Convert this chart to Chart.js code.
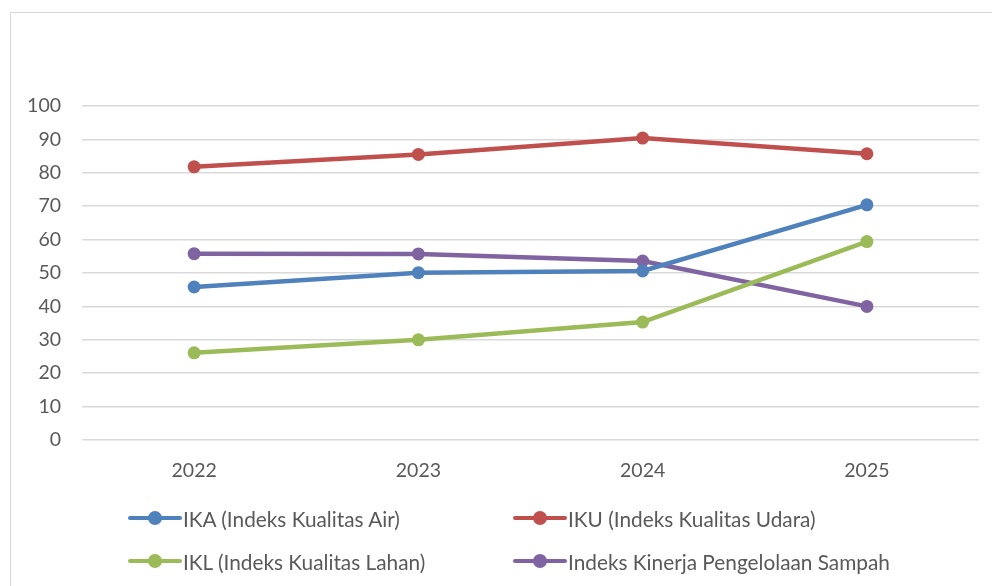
<!DOCTYPE html>
<html>
<head>
<meta charset="utf-8">
<script src="https://cdn.jsdelivr.net/npm/chart.js@4"></script>
<style>
  html, body { margin: 0; padding: 0; background: #fff; }
  body { width: 992px; height: 586px; position: relative; overflow: hidden; font-family: Lato, "Open Sans", sans-serif; }
  #frame { position: absolute; left: 10px; top: 12px; width: 1100px; height: 700px; border: 1.5px solid #d9d9d9; box-sizing: border-box; }
  #wrap { position: absolute; left: 0; top: 0; width: 992px; height: 586px; }
  #legend { position: absolute; left: 128px; top: 506px; display: grid; grid-template-columns: 385px 400px; row-gap: 19px; color: #595959; font-size: 20.8px; }
  .item { display: flex; align-items: center; height: 24px; white-space: nowrap; }
  .swatch { position: relative; width: 54px; height: 4.5px; border-radius: 2px; margin-right: 1px; }
  .swatch i { position: absolute; left: 20px; top: -5px; width: 14px; height: 14px; border-radius: 50%; background: inherit; }
</style>
</head>
<body>
<div id="frame"></div>
<div id="wrap"><canvas id="lineChart"></canvas></div>
<div id="legend"></div>
<script>
const years = ['2022', '2023', '2024', '2025'];
const ikaValues = [45.8, 50.1, 50.6, 70.4];
const ikuValues = [81.8, 85.5, 90.4, 85.7];
const iklValues = [26.1, 30.0, 35.3, 59.4];
const sampahValues = [55.8, 55.7, 53.6, 40.0];
const seriesLabels = [
    'IKA (Indeks Kualitas Air)',
    'IKU (Indeks Kualitas Udara)',
    'IKL (Indeks Kualitas Lahan)',
    'Indeks Kinerja Pengelolaan Sampah'
];
const seriesColors = ['#4f81bd', '#c0504d', '#9bbb59', '#8064a2'];

function makeDataset(i, values) {
    return {
        label: seriesLabels[i],
        data: values,
        borderColor: seriesColors[i],
        backgroundColor: seriesColors[i],
        borderWidth: 4.5,
        pointRadius: 6.5,
        pointHoverRadius: 6.5,
        pointBorderWidth: 0,
        tension: 0
    };
}

const textColor = '#595959';
const ctx = document.getElementById('lineChart').getContext('2d');
const chart = new Chart(ctx, {
    type: 'line',
    data: {
        labels: years,
        datasets: [
            makeDataset(0, ikaValues),
            makeDataset(1, ikuValues),
            makeDataset(2, iklValues),
            makeDataset(3, sampahValues)
        ]
    },
    options: {
        responsive: true,
        maintainAspectRatio: false,
        animation: false,
        layout: { padding: { top: 106, right: 13, bottom: 101, left: 0 } },
        plugins: {
            legend: { display: false },
            tooltip: { enabled: false }
        },
        scales: {
            x: {
                offset: true,
                grid: { display: false, drawTicks: false },
                border: { display: false },
                ticks: { color: textColor, font: { family: 'Lato', size: 19.5 }, padding: 19 },
                afterFit: (scale) => { scale.height = 45; }
            },
            y: {
                min: 0,
                max: 100,
                ticks: { stepSize: 10, color: textColor, font: { family: 'Lato', size: 19.5 }, padding: 21 },
                grid: { color: '#d9d9d9', lineWidth: 1.5, drawTicks: false },
                border: { display: false },
                afterFit: (scale) => { scale.width = 82; }
            }
        }
    }
});

// legend built from the chart's own datasets
const legendBox = document.getElementById('legend');
chart.data.datasets.forEach(ds => {
    const item = document.createElement('div');
    item.className = 'item';
    const sw = document.createElement('span');
    sw.className = 'swatch';
    sw.style.background = ds.borderColor;
    sw.appendChild(document.createElement('i'));
    const txt = document.createElement('span');
    txt.textContent = ds.label;
    item.appendChild(sw);
    item.appendChild(txt);
    legendBox.appendChild(item);
});
</script>
</body>
</html>
